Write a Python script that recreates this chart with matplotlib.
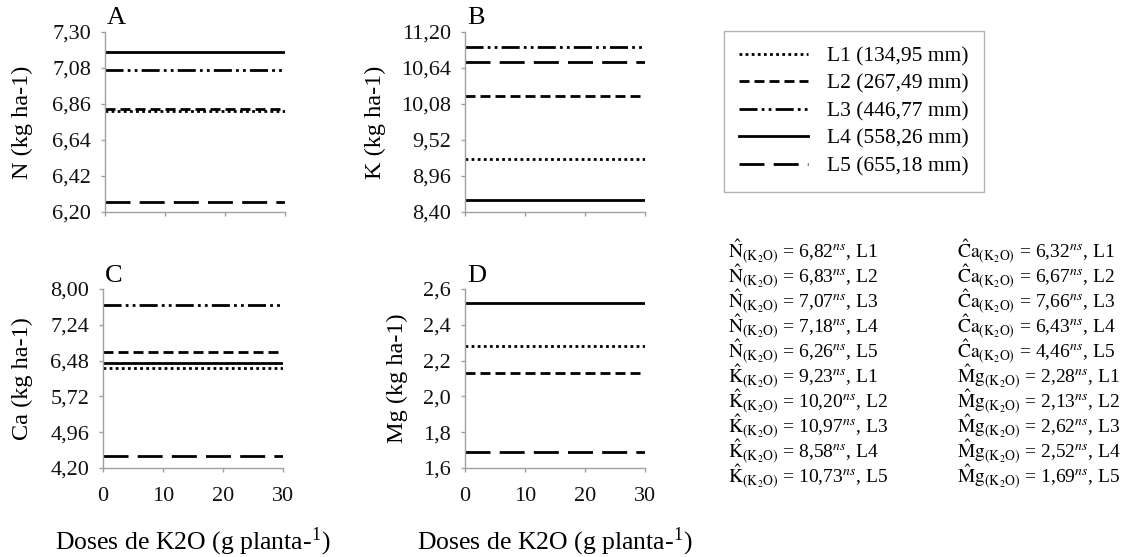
import matplotlib
matplotlib.use('Agg')
import matplotlib.pyplot as plt
from matplotlib.ticker import FuncFormatter, FixedLocator

plt.rcParams['font.family'] = ['Liberation Serif', 'DejaVu Serif']
plt.rcParams['mathtext.fontset'] = 'stix'

doses = [0, 10, 20, 30]
labels = ['L1 (134,95 mm)', 'L2 (267,49 mm)', 'L3 (446,77 mm)', 'L4 (558,26 mm)', 'L5 (655,18 mm)']
layers = ['L1', 'L2', 'L3', 'L4', 'L5']

n_vals = [6.82, 6.83, 7.07, 7.18, 6.26]
k_vals = [9.23, 10.20, 10.97, 8.58, 10.73]
ca_vals = [6.32, 6.67, 7.66, 6.43, 4.46]
mg_vals = [2.28, 2.13, 2.62, 2.52, 1.69]

n_ticks = [6.20, 6.42, 6.64, 6.86, 7.08, 7.30]
k_ticks = [8.40, 8.96, 9.52, 10.08, 10.64, 11.20]
ca_ticks = [4.20, 4.96, 5.72, 6.48, 7.24, 8.00]
mg_ticks = [1.6, 1.8, 2.0, 2.2, 2.4, 2.6]

# line styles for L1..L5 (dotted, dashed, dash-dot-dot, solid, long dash)
styles = [(0, (1, 1.2)), (0, (3.6, 1.8)), (0, (6.5, 1.5, 1, 1.5, 1, 1.5)), '-', (0, (9, 3.3))]

W, H = 1134, 557
fig = plt.figure(figsize=(W / 100, H / 100), dpi=100)

def fx(px):
    return px / W

def fy(py):
    return 1 - py / H

panels = [
    ('A', 'N (kg ha-1)', n_vals, n_ticks, 2, (105, 32, 212), -0.461, False),
    ('B', 'K (kg ha-1)', k_vals, k_ticks, 2, (465, 32, 212), -0.50, False),
    ('C', 'Ca (kg ha-1)', ca_vals, ca_ticks, 2, (103, 289, 468), -0.45, True),
    ('D', 'Mg (kg ha-1)', mg_vals, mg_ticks, 1, (465, 289, 468), -0.378, True),
]

handles = []
for letter, ylab, vals, ticks, dec, (l, t, b), ylx, xlab in panels:
    ax = fig.add_axes([fx(l), fy(b), 180 / W, (b - t) / H])
    hs = []
    for v, ls in zip(vals, styles):
        h, = ax.plot(doses, [v] * len(doses), color='black', lw=2, linestyle=ls,
                     dash_capstyle='butt')
        hs.append(h)
    if not handles:
        handles = hs
    ax.set_xlim(0, 30)
    ax.set_ylim(ticks[0], ticks[-1])
    ax.yaxis.set_major_locator(FixedLocator(ticks))
    ax.xaxis.set_major_locator(FixedLocator(doses))
    ax.yaxis.set_major_formatter(FuncFormatter(lambda y, p, d=dec: f'{y:.{d}f}'.replace('.', ',')))
    for s in ['top', 'right']:
        ax.spines[s].set_visible(False)
    for s in ['left', 'bottom']:
        ax.spines[s].set_color('#a0a0a0')
        ax.spines[s].set_linewidth(1)
    ax.tick_params(axis='both', colors='#a0a0a0', length=3, width=1, labelsize=16,
                   labelcolor='#111111')
    ax.tick_params(axis='y', pad=7)
    ax.tick_params(axis='x', pad=11)
    if not xlab:
        ax.tick_params(axis='x', labelbottom=False)
    else:
        ax.set_xlabel('Doses de K2O (g planta-$^{\\mathregular{1}}$)', fontsize=18.5)
        ax.xaxis.label.set_va('center')
        ax.xaxis.set_label_coords(0.5, -0.413)
    ax.set_ylabel(ylab, fontsize=17.5)
    ax.yaxis.label.set_va('center')
    ax.yaxis.set_label_coords(ylx, 0.5)
    ax.text(0.01, 1.075, letter, transform=ax.transAxes, fontsize=19, va='center', ha='left')

leg = fig.legend(handles, labels, loc='upper left', bbox_to_anchor=(fx(724), fy(31)),
                 bbox_transform=fig.transFigure, borderaxespad=0, fontsize=15.5,
                 frameon=True, fancybox=False, edgecolor='#a0a0a0', handlelength=3.2,
                 handletextpad=0.9, labelspacing=0.35, borderpad=0.7)
leg.get_frame().set_linewidth(1)

# equations
sym1 = [r'\hat{\mathrm{N}}'] * 5 + [r'\hat{\mathrm{K}}'] * 5
sym2 = [r'\hat{\mathrm{C}}\mathrm{a}'] * 5 + [r'\hat{\mathrm{M}}\mathrm{g}'] * 5
col1 = n_vals + k_vals
col2 = ca_vals + mg_vals
rows = layers + layers
for i in range(10):
    y = fy(252 + i * 25)
    t1 = '$' + sym1[i] + r'_{(\mathrm{K_2O})}$ = ' + f'{col1[i]:.2f}'.replace('.', ',') + '$^{ns}$, ' + rows[i]
    t2 = '$' + sym2[i] + r'_{(\mathrm{K_2O})}$ = ' + f'{col2[i]:.2f}'.replace('.', ',') + '$^{ns}$, ' + rows[i]
    fig.text(fx(728), y, t1, fontsize=14, va='center', ha='left')
    fig.text(fx(957), y, t2, fontsize=14, va='center', ha='left')

fig.savefig('out.png', dpi=100)
